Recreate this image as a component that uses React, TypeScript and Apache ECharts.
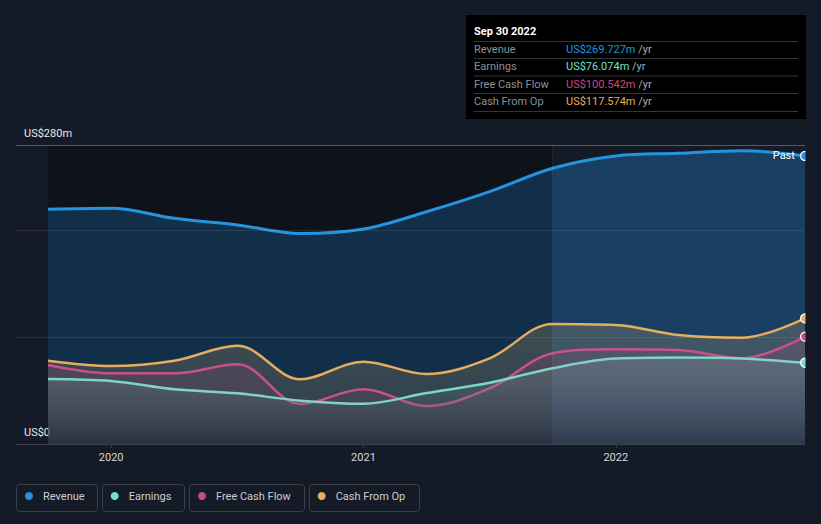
import React, { useEffect, useRef } from "react";
import * as echarts from "echarts";

// Quarter ends (decimal years), Sep 2019 .. Sep 2022
const quarters = [2019.75, 2020, 2020.25, 2020.5, 2020.75, 2021, 2021.25, 2021.5, 2021.75, 2022, 2022.25, 2022.5, 2022.75];
const revenue = [219.8, 220.7, 211.3, 205.1, 197.1, 201.3, 217.5, 236.3, 258.2, 269.7, 272.2, 274.7, 269.727];
const earnings = [60.9, 59.0, 51.2, 47.5, 40.6, 37.7, 47.7, 57.4, 71.0, 80.0, 81.0, 80.0, 76.074];
const freeCashFlow = [74.0, 66.2, 66.2, 74.6, 37.5, 51.2, 35.6, 52.1, 84.9, 88.7, 88.0, 80.2, 100.542];
const cashFromOp = [78.0, 73.0, 78.0, 92.0, 60.6, 77.0, 65.5, 80.2, 112.4, 111.4, 102.0, 99.5, 117.574];

const yearTicks = [2020, 2021, 2022];
const yLabelValues = [0, 280];
const gridValues = [100, 200];
const pastStart = 2021.75;

const seriesNames = ["Revenue", "Earnings", "Free Cash Flow", "Cash From Op"];
const seriesColors = ["#2394df", "#6fe0cc", "#c94a86", "#e8ad5d"];
const tooltipTitle = "Sep 30 2022";
const tooltipValues = ["US$269.727m", "US$76.074m", "US$100.542m", "US$117.574m"];

const FONT = "Roboto, 'Noto Sans', sans-serif";
const BG = "#151b26";

export default function App() {
  const ref = useRef<HTMLDivElement>(null);

  useEffect(() => {
    document.body.style.margin = "0";
    document.body.style.background = BG;
    if (!ref.current) return;
    const chart = echarts.init(ref.current, undefined, { renderer: "svg" });
    const last = quarters.length - 1;
    const x0 = quarters[0];
    const x1 = quarters[last];
    const pastFrac = (pastStart - x0) / (x1 - x0);

    const mkData = (vals: number[], withPast = false) =>
      quarters.map((t, i) => {
        if (i === last && withPast) {
          return {
            value: [t, vals[i]],
            label: {
              show: true,
              formatter: "Past",
              position: "left",
              distance: 5,
              color: "#ffffff",
              fontSize: 11,
              fontFamily: FONT,
            },
          };
        }
        return [t, vals[i]];
      });

    const mkSeries = (
      name: string,
      vals: number[],
      color: string,
      lineColor: string,
      width: number,
      area: any,
      z: number,
      withPast = false
    ) => ({
      name,
      type: "line",
      data: mkData(vals, withPast),
      smooth: 0.35,
      symbol: "circle",
      showAllSymbol: true,
      symbolSize: (_v: any, p: any) => (p.dataIndex === last ? 9 : 0),
      lineStyle: { color: lineColor, width },
      itemStyle: { color, borderColor: "#ffffff", borderWidth: 1.2 },
      areaStyle: area,
      z,
      silent: true,
      emphasis: { disabled: true },
    });

    const revenueArea = {
      color: {
        type: "linear",
        x: 0,
        y: 0,
        x2: 1,
        y2: 0,
        colorStops: [
          { offset: 0, color: "rgba(33,150,243,0.22)" },
          { offset: pastFrac - 0.0005, color: "rgba(33,150,243,0.22)" },
          { offset: pastFrac + 0.0005, color: "rgba(33,150,243,0.29)" },
          { offset: 1, color: "rgba(33,150,243,0.29)" },
        ],
      },
      opacity: 1,
    };
    const cfoArea = {
      color: {
        type: "linear", x: 0, y: 0, x2: 0, y2: 1,
        colorStops: [
          { offset: 0, color: "rgba(225,180,110,0.22)" },
          { offset: 1, color: "rgba(225,180,110,0.12)" },
        ],
      },
      opacity: 1,
    };
    const fcfArea = {
      color: {
        type: "linear", x: 0, y: 0, x2: 0, y2: 1,
        colorStops: [
          { offset: 0, color: "rgba(201,74,134,0.17)" },
          { offset: 1, color: "rgba(201,74,134,0.08)" },
        ],
      },
      opacity: 1,
    };
    const earnArea = {
      color: {
        type: "linear", x: 0, y: 0, x2: 0, y2: 1,
        colorStops: [
          { offset: 0, color: "rgba(150,220,210,0.16)" },
          { offset: 1, color: "rgba(15,19,28,0.32)" },
        ],
      },
      opacity: 1,
    };

    const legendLefts = [25, 110.7, 198, 317.7];
    const legendBoxes = [
      [16.5, 484.5, 81, 27],
      [102.5, 484.5, 82, 27],
      [189.5, 484.5, 115, 27],
      [309.5, 484.5, 110, 27],
    ];

    const rowY = [49, 66.5, 84, 101.5];
    const sepY = [41.5, 58.5, 76, 93.5, 111.5];

    const graphic: any[] = [
      // covers the part of the end markers that falls outside the plot's right edge
      {
        type: "rect",
        shape: { x: 805.5, y: 135, width: 16, height: 308 },
        style: { fill: BG },
        z: 100,
        silent: true,
      },
      {
        type: "rect",
        shape: { x: 466, y: 15, width: 340, height: 104 },
        style: { fill: "#000000" },
        z: 110,
      },
      {
        type: "text",
        x: 474,
        y: 31,
        z: 111,
        style: {
          text: tooltipTitle,
          fill: "#ffffff",
          fontSize: 11,
          fontWeight: "bold",
          fontFamily: FONT,
          textVerticalAlign: "middle",
        },
      },
      ...sepY.map((y) => ({
        type: "line",
        z: 111,
        shape: { x1: 474, y1: y, x2: 798, y2: y },
        style: { stroke: "#333538", lineWidth: 1 },
      })),
      ...seriesNames.map((n, i) => ({
        type: "text",
        x: 474,
        y: rowY[i],
        z: 111,
        style: {
          text: n,
          fill: "#8b9097",
          fontSize: 11,
          fontFamily: FONT,
          textVerticalAlign: "middle",
        },
      })),
      ...tooltipValues.map((v, i) => ({
        type: "text",
        x: 566,
        y: rowY[i],
        z: 111,
        style: {
          text: `{v|${v}} {u|/yr}`,
          fontSize: 11,
          fontFamily: FONT,
          textVerticalAlign: "middle",
          rich: {
            v: { fill: seriesColors[i], fontSize: 11, fontFamily: FONT },
            u: { fill: "#a9adb3", fontSize: 11, fontFamily: FONT },
          },
        },
      })),
      ...legendBoxes.map((b) => ({
        type: "rect",
        shape: { x: b[0], y: b[1], width: b[2], height: b[3], r: 3 },
        style: { fill: "transparent", stroke: "#3a4049", lineWidth: 1 },
        z: 1,
      })),
    ];

    chart.setOption({
      animation: false,
      backgroundColor: BG,
      grid: {
        left: 16,
        right: 16,
        top: 145,
        bottom: 80,
        containLabel: false,
        outerBoundsMode: "none",
      },
      xAxis: {
        type: "value",
        min: 2019.623,
        max: x1,
        splitLine: { show: false },
        axisLine: { show: true, lineStyle: { color: "#3b414c", width: 1 } },
        axisTick: {
          show: true,
          customValues: yearTicks,
          length: 4,
          lineStyle: { color: "#3b414c" },
        },
        axisLabel: {
          customValues: yearTicks,
          formatter: (v: number) => String(Math.round(v)),
          color: "#d4d7db",
          fontSize: 11,
          fontFamily: FONT,
          margin: 8,
        },
      },
      yAxis: {
        type: "value",
        min: 0,
        max: 280,
        splitLine: { show: false },
        axisLine: { show: false },
        axisTick: { show: false },
        axisLabel: {
          customValues: yLabelValues,
          inside: true,
          margin: 8,
          formatter: (v: number) => (v === 0 ? "US$0" : `US$${v}m`),
          color: "#e8e8e8",
          fontSize: 11,
          fontFamily: FONT,
          verticalAlign: "bottom",
          lineHeight: 24,
        },
      },
      legend: seriesNames.map((n, i) => ({
        data: [n],
        left: legendLefts[i],
        top: 489,
        icon: "circle",
        itemWidth: 14,
        itemHeight: 8,
        itemGap: 0,
        selectedMode: false,
        padding: 0,
        itemStyle: { borderWidth: 0 },
        textStyle: {
          color: "#c9cdd2",
          fontSize: 11,
          fontFamily: FONT,
          lineHeight: 14,
          padding: [0, 0, 0, 2],
        },
      })),
      graphic,
      series: [
        {
          name: "bg",
          type: "line",
          data: [
            [x0, 0],
            [x1, 0],
          ],
          lineStyle: { opacity: 0, width: 0 },
          showSymbol: false,
          silent: true,
          z: 1,
          markArea: {
            silent: true,
            itemStyle: { color: "rgba(0,0,0,0.3)" },
            data: [[{ xAxis: x0 }, { xAxis: pastStart }]],
          },
          markLine: {
            silent: true,
            symbol: "none",
            label: { show: false },
            data: [
              ...gridValues.map((v) => ({
                yAxis: v,
                lineStyle: { color: "rgba(255,255,255,0.09)", type: "solid", width: 1 },
              })),
              { yAxis: 280, lineStyle: { color: "rgba(255,255,255,0.28)", type: "solid", width: 1 } },
              { xAxis: pastStart, lineStyle: { color: "rgba(255,255,255,0.07)", type: "solid", width: 1 } },
            ],
          },
        },
        mkSeries(seriesNames[0], revenue, seriesColors[0], "#2394df", 3, revenueArea, 2, true),
        mkSeries(seriesNames[3], cashFromOp, seriesColors[3], "#e6ad5e", 2.5, cfoArea, 3),
        mkSeries(seriesNames[2], freeCashFlow, seriesColors[2], "#c9508a", 2.5, fcfArea, 4),
        mkSeries(seriesNames[1], earnings, seriesColors[1], "#7fd6c0", 2.5, earnArea, 5),
      ],
    });

    return () => chart.dispose();
  }, []);

  return <div ref={ref} style={{ width: 821, height: 524 }} />;
}
